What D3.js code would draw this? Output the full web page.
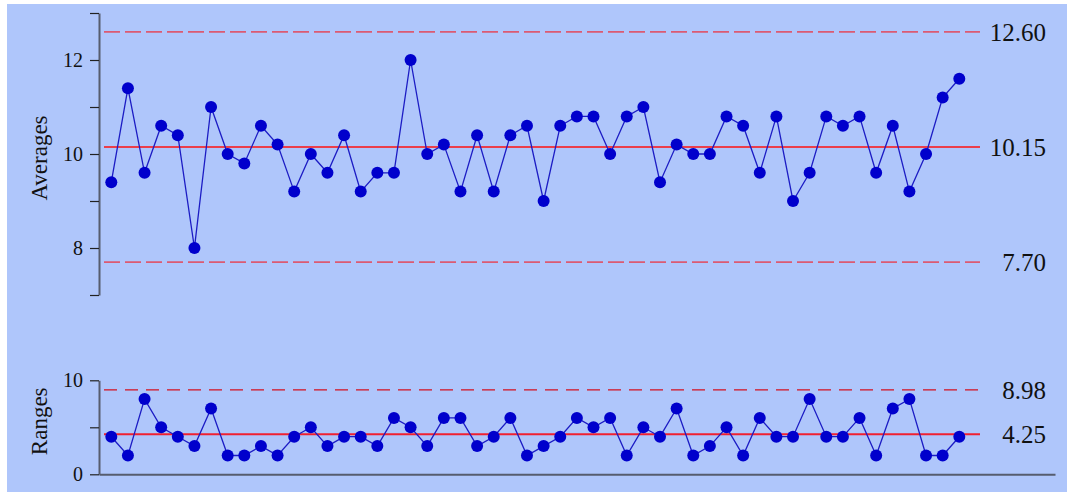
<!DOCTYPE html>
<html>
<head>
<meta charset="utf-8">
<script src="https://cdn.jsdelivr.net/npm/d3@7"></script>
<style>
  html, body { margin: 0; padding: 0; background: #ffffff; }
  svg { display: block; }
  text { font-family: "Liberation Serif", "DejaVu Serif", serif; fill: #111; }
</style>
</head>
<body>
<svg id="chart" width="1067" height="497"></svg>
<script>
// Subgroup averages and ranges (52 samples)
const samples = d3.range(1, 53);
const averages = [9.4, 11.4, 9.6, 10.6, 10.4, 8.0, 11.0, 10.0, 9.8, 10.6,
                  10.2, 9.2, 10.0, 9.6, 10.4, 9.2, 9.6, 9.6, 12.0, 10.0,
                  10.2, 9.2, 10.4, 9.2, 10.4, 10.6, 9.0, 10.6, 10.8, 10.8,
                  10.0, 10.8, 11.0, 9.4, 10.2, 10.0, 10.0, 10.8, 10.6, 9.6,
                  10.8, 9.0, 9.6, 10.8, 10.6, 10.8, 9.6, 10.6, 9.2, 10.0,
                  11.2, 11.6];
const ranges = [4, 2, 8, 5, 4, 3, 7, 2, 2, 3,
                2, 4, 5, 3, 4, 4, 3, 6, 5, 3,
                6, 6, 3, 4, 6, 2, 3, 4, 6, 5,
                6, 2, 5, 4, 7, 2, 3, 5, 2, 6,
                4, 4, 8, 4, 4, 6, 2, 7, 8, 2,
                2, 4];

// Control limits
const avgLimits = { ucl: 12.60, center: 10.15, lcl: 7.70 };
const rangeLimits = { ucl: 8.98, center: 4.25 };

// Axis ticks
const avgTicks = [7, 8, 9, 10, 11, 12, 13];
const avgTickLabels = [8, 10, 12];
const rangeTicks = [0, 5, 10];
const rangeTickLabels = [0, 10];

const svg = d3.select("#chart");

svg.append("rect")
  .attr("x", 7).attr("y", 4)
  .attr("width", 1060).attr("height", 488)
  .attr("fill", "#afc6fb");

// Shared horizontal scale
const x = d3.scaleLinear().domain([1, 52]).range([111.3, 959.3]);
const frame = d3.scaleLinear().domain([0, 1]).range([99, 1055]);
const limitX0 = 104, limitX1 = 980;

const yAvg = d3.scaleLinear().domain([7, 13]).range([295, 13]);
const yRng = d3.scaleLinear().domain([0, 10]).range([474.3, 380.3]);

function styleAxis(g) {
  g.select(".domain").attr("stroke", "#565c6e").attr("stroke-width", 2);
  g.selectAll(".tick line").attr("stroke", "#222").attr("stroke-width", 1.2);
  g.selectAll(".tick text")
    .attr("font-size", 20)
    .attr("font-family", "Liberation Serif")
    .attr("fill", "#111")
    .attr("dx", "-0.2em");
}

// Averages axis
const gAvgAxis = svg.append("g")
  .attr("transform", "translate(99,0)")
  .call(d3.axisLeft(yAvg)
    .tickValues(avgTicks)
    .tickSize(9)
    .tickSizeOuter(0)
    .tickFormat(d => avgTickLabels.includes(d) ? d3.format("d")(d) : ""));
styleAxis(gAvgAxis);

// Ranges axes
const gRngAxis = svg.append("g")
  .attr("transform", "translate(99,0)")
  .call(d3.axisLeft(yRng)
    .tickValues(rangeTicks)
    .tickSize(9)
    .tickSizeOuter(0)
    .tickFormat(d => rangeTickLabels.includes(d) ? d3.format("d")(d) : ""));
styleAxis(gRngAxis);

const gRngBase = svg.append("g")
  .attr("transform", `translate(0,${yRng(0)})`)
  .call(d3.axisBottom(frame).tickValues([]).tickSizeOuter(0));
gRngBase.select(".domain").attr("stroke", "#565c6e").attr("stroke-width", 2);

// Axis titles
svg.append("text")
  .attr("transform", `translate(47,${(yAvg(13) + yAvg(7)) / 2 + 4}) rotate(-90)`)
  .attr("text-anchor", "middle")
  .attr("font-size", 23)
  .text("Averages");

svg.append("text")
  .attr("transform", `translate(47,${(yRng(0) + yRng(10)) / 2 - 6}) rotate(-90)`)
  .attr("text-anchor", "middle")
  .attr("font-size", 23)
  .text("Ranges");

// Limit lines with value labels
function limitLine(y, value, dashed, color, width, dash) {
  const line = svg.append("line")
    .attr("x1", limitX0).attr("x2", limitX1)
    .attr("y1", y(value)).attr("y2", y(value))
    .attr("stroke", color)
    .attr("stroke-width", width);
  if (dashed) line.attr("stroke-dasharray", dash);
  svg.append("text")
    .attr("x", 1046)
    .attr("y", y(value))
    .attr("dy", "0.36em")
    .attr("text-anchor", "end")
    .attr("font-size", 25)
    .text(d3.format(".2f")(value));
}

limitLine(yAvg, avgLimits.ucl, true, "#dc5a72", 1.8, "16,5");
limitLine(yAvg, avgLimits.center, false, "#ff1010", 1.5);
limitLine(yAvg, avgLimits.lcl, true, "#dc5a72", 1.8, "16,5");

limitLine(yRng, rangeLimits.ucl, true, "#d41020", 1.3, "13,8");
limitLine(yRng, rangeLimits.center, false, "#f02030", 2);

// Series
function series(values, y) {
  const pts = samples.map((s, i) => [s, values[i]]);
  svg.append("path")
    .datum(pts)
    .attr("fill", "none")
    .attr("stroke", "#1c1cc4")
    .attr("stroke-width", 1.3)
    .attr("d", d3.line().x(d => x(d[0])).y(d => y(d[1])));
  svg.append("g")
    .selectAll("circle")
    .data(pts)
    .join("circle")
    .attr("cx", d => x(d[0]))
    .attr("cy", d => y(d[1]))
    .attr("r", 6)
    .attr("fill", "#0000cc");
}

series(averages, yAvg);
series(ranges, yRng);
</script>
</body>
</html>
